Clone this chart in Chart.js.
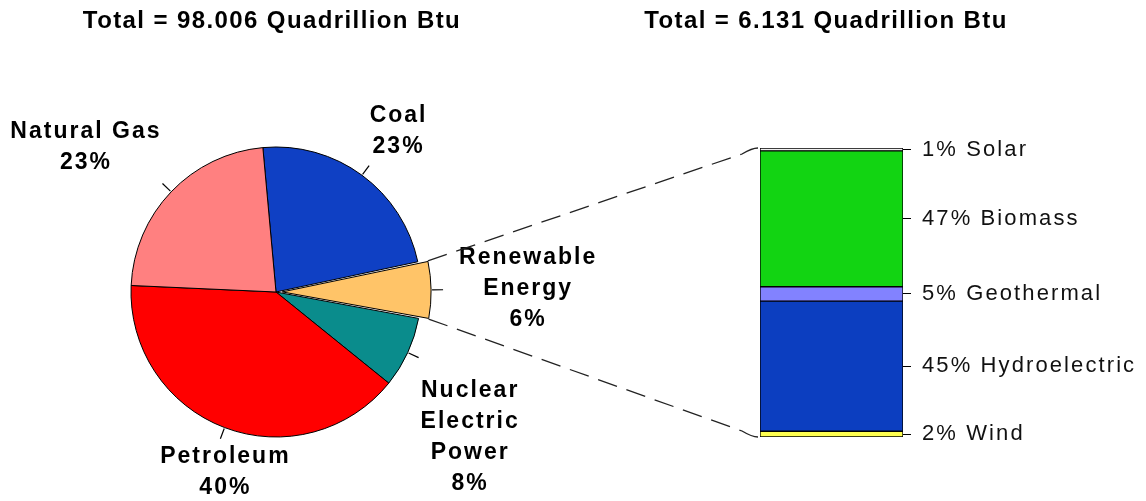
<!DOCTYPE html>
<html>
<head>
<meta charset="utf-8">
<script src="https://cdn.jsdelivr.net/npm/chart.js@4.4.1/dist/chart.umd.min.js"></script>
<style>
  html, body { margin: 0; padding: 0; background: #fff; }
  #wrap { position: relative; width: 1146px; height: 501px; overflow: hidden; }
  canvas { position: absolute; left: 0; top: 0; }
  .title { position: absolute; top: 6px; font: bold 24px "Liberation Sans", Arial, sans-serif; letter-spacing: 1.4px; white-space: nowrap; transform: translateX(-50%); color: #000; }
</style>
</head>
<body>
<div id="wrap">
  <canvas id="pie" width="1146" height="501"></canvas>
  <canvas id="bar" width="1146" height="501"></canvas>
  <div class="title" id="t1" style="left:272px"></div>
  <div class="title" id="t2" style="left:826px"></div>
</div>
<script>
(function () {
    'use strict';

    // all energy sources, clockwise from the top
    var sourceNames = ['Coal', 'Renewable\nEnergy', 'Nuclear\nElectric\nPower', 'Petroleum', 'Natural Gas'];
    var sourceShares = [23.1, 6.26, 7.9, 39.9, 22.84];
    var sourceColors = ['#0F40C4', '#FFC468', '#0A8C8C', '#FF0000', '#FF8080'];
    var sourceOffsets = [0, 25, 0, 0, 0];
    var pieTotal = 'Total = 98.006 Quadrillion Btu';

    // renewable breakdown, bottom to top
    var renewNames = ['Wind', 'Hydroelectric', 'Geothermal', 'Biomass', 'Solar'];
    var renewShares = [2, 45, 5, 47, 1];
    var renewColors = ['#FFFF50', '#0C3EC0', '#8282FF', '#12D412', '#F0F0F0'];
    var renewTotal = 'Total = 6.131 Quadrillion Btu';

    // small hand nudges so the pie labels sit where the original put them
    var labelNudge = [[2, -3], [16, 0], [2, 38], [42, 2], [-1, -5]];

    document.getElementById('t1').textContent = pieTotal;
    document.getElementById('t2').textContent = renewTotal;

    var FONT = '"Liberation Sans", Arial, sans-serif';

    var tickMids = [];
    var run = 0;
    renewShares.forEach(function (v) { tickMids.push(run + v / 2); run += v; });

    // where the arc is really painted (ArcElement shifts by offset/4)
    function arcGeom(arc) {
        var off = (arc.options.offset || 0) / 4;
        var circ = arc.endAngle - arc.startAngle;
        var fix = 1 - Math.sin(Math.min(Math.PI, circ));
        var mid = (arc.startAngle + arc.endAngle) / 2;
        return { x: arc.x + Math.cos(mid) * off, y: arc.y + Math.sin(mid) * off, r: arc.outerRadius + off * fix, mid: mid };
    }

    function clamp(v) { return Math.max(-1, Math.min(1, v)); }

    var pieLabels = {
        id: 'pieLabels',
        afterDraw: function (chart) {
            var ctx = chart.ctx;
            var meta = chart.getDatasetMeta(0);
            ctx.save();
            ctx.font = 'bold 23px ' + FONT;
            ctx.letterSpacing = '2px';
            ctx.fillStyle = '#000';
            ctx.strokeStyle = '#000';
            ctx.lineWidth = 1.2;
            ctx.textAlign = 'center';
            ctx.textBaseline = 'middle';
            meta.data.forEach(function (arc, i) {
                var g = arcGeom(arc);
                var ux = Math.cos(g.mid), uy = Math.sin(g.mid);
                ctx.beginPath();
                ctx.moveTo(g.x + ux * (g.r + 1), g.y + uy * (g.r + 1));
                ctx.lineTo(g.x + ux * (g.r + 12), g.y + uy * (g.r + 12));
                ctx.stroke();
                var ex = g.x + ux * (g.r + 12), ey = g.y + uy * (g.r + 12);
                var lines = sourceNames[i].split('\n').concat([Math.round(sourceShares[i]) + '%']);
                var w = 0;
                lines.forEach(function (s) { w = Math.max(w, ctx.measureText(s).width); });
                var lh = 31, h = lines.length * lh;
                var bx = ex + clamp(1.6 * ux) * w / 2 + labelNudge[i][0];
                var by = ey + clamp(1.6 * uy) * h / 2 + labelNudge[i][1];
                lines.forEach(function (s, k) {
                    ctx.fillText(s, bx, by - h / 2 + lh / 2 + k * lh);
                });
            });
            ctx.restore();
        }
    };

    var pieChart = new Chart(document.getElementById('pie'), {
        type: 'pie',
        data: {
            labels: sourceNames.map(function (n) { return n.replace(/\n/g, ' '); }),
            datasets: [{ data: sourceShares, backgroundColor: sourceColors, borderColor: '#000', borderWidth: 1, offset: sourceOffsets }]
        },
        options: {
            responsive: false, animation: false, events: [],
            rotation: -5.2, radius: 145,
            layout: { padding: { left: 0, right: 594, top: 83, bottom: 0 } },
            plugins: { legend: { display: false }, tooltip: { enabled: false } }
        },
        plugins: [pieLabels]
    });

    var tickSpacing = {
        id: 'tickSpacing',
        beforeDraw: function (chart) { chart.ctx.letterSpacing = '2.1px'; }
    };

    var connectors = {
        id: 'connectors',
        afterDraw: function (chart) {
            var ctx = chart.ctx;
            var arc = pieChart.getDatasetMeta(0).data[1];
            var g = arcGeom(arc);
            var pTop = { x: g.x + Math.cos(arc.startAngle) * g.r, y: g.y + Math.sin(arc.startAngle) * g.r };
            var pBot = { x: g.x + Math.cos(arc.endAngle) * g.r, y: g.y + Math.sin(arc.endAngle) * g.r };
            var topEl = chart.getDatasetMeta(renewNames.length - 1).data[0];
            var botEl = chart.getDatasetMeta(0).data[0];
            var left = topEl.x - topEl.width / 2;
            ctx.save();
            ctx.letterSpacing = '0px';
            ctx.strokeStyle = '#222';
            ctx.lineWidth = 1.3;
            ctx.setLineDash([20, 10]);
            [[pTop, { x: left - 2, y: topEl.y }], [pBot, { x: left - 2, y: botEl.base }]].forEach(function (pr) {
                var a = pr[0], b = pr[1];
                var s = a.y > b.y ? 1 : -1;
                ctx.beginPath();
                ctx.moveTo(a.x, a.y);
                ctx.lineTo(b.x - 16, b.y + s * 6);
                ctx.quadraticCurveTo(b.x - 6, b.y, b.x, b.y);
                ctx.stroke();
            });
            ctx.restore();
        }
    };

    new Chart(document.getElementById('bar'), {
        type: 'bar',
        data: {
            labels: [''],
            datasets: renewNames.map(function (n, i) {
                return { label: n, data: [renewShares[i]], backgroundColor: renewColors[i], borderColor: '#000', borderWidth: 1, borderSkipped: false, barPercentage: 1, categoryPercentage: 1 };
            })
        },
        options: {
            responsive: false, animation: false, events: [],
            layout: { padding: { left: 760, right: 0, top: 148, bottom: 64 } },
            scales: {
                x: { stacked: true, display: false },
                y: {
                    stacked: true, position: 'right', min: 0, max: 100,
                    afterBuildTicks: function (s) { s.ticks = tickMids.map(function (v) { return { value: v }; }); },
                    afterFit: function (s) { s.width = 243; },
                    ticks: {
                        autoSkip: false, padding: 11, color: '#111',
                        font: { family: FONT, size: 22 },
                        callback: function (v, i) { return renewShares[i] + '% ' + renewNames[i]; }
                    },
                    grid: { drawOnChartArea: false, drawTicks: true, tickLength: 8, color: '#000' },
                    border: { display: false }
                }
            },
            plugins: { legend: { display: false }, tooltip: { enabled: false } }
        },
        plugins: [tickSpacing, connectors]
    });
})();
</script>
</body>
</html>
